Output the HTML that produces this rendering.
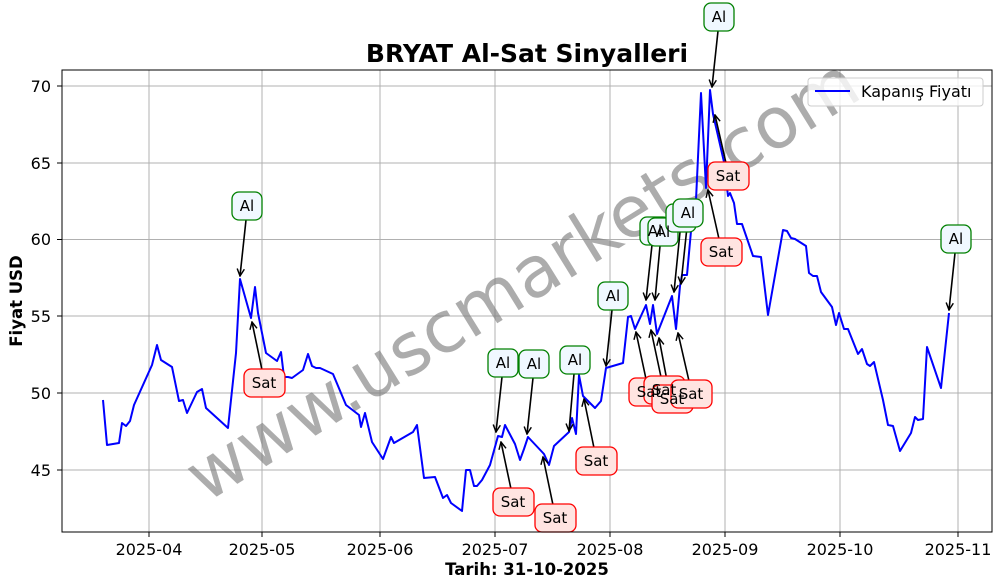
<!DOCTYPE html>
<html><head><meta charset="utf-8"><style>
body{margin:0;background:#fff}
svg{display:block;font-family:"DejaVu Sans","Liberation Sans",sans-serif}
</style></head><body>
<svg width="1001" height="587" viewBox="0 0 1001 587" xmlns="http://www.w3.org/2000/svg">
<defs>
<marker id="ah" viewBox="0 0 10 10" refX="9" refY="5" markerWidth="9" markerHeight="9" orient="auto" markerUnits="userSpaceOnUse">
<path d="M1,1 L9,5 L1,9" fill="none" stroke="#000" stroke-width="1.6"/>
</marker>
</defs>
<rect width="1001" height="587" fill="#fff"/>
<g stroke="#b0b0b0" stroke-width="1">
<line x1="149" y1="70" x2="149" y2="532"/><line x1="262" y1="70" x2="262" y2="532"/>
<line x1="380" y1="70" x2="380" y2="532"/><line x1="495" y1="70" x2="495" y2="532"/>
<line x1="610" y1="70" x2="610" y2="532"/><line x1="725" y1="70" x2="725" y2="532"/>
<line x1="840" y1="70" x2="840" y2="532"/><line x1="958" y1="70" x2="958" y2="532"/>
<line x1="62" y1="86" x2="992" y2="86"/><line x1="62" y1="163" x2="992" y2="163"/>
<line x1="62" y1="239.5" x2="992" y2="239.5"/><line x1="62" y1="316" x2="992" y2="316"/>
<line x1="62" y1="393" x2="992" y2="393"/><line x1="62" y1="470" x2="992" y2="470"/>
</g>
<text x="535" y="300" transform="rotate(-31.7 535 300)" text-anchor="middle" font-size="71" fill="#808080" fill-opacity="0.65">www.uscmarkets.com</text>
<polyline fill="none" stroke="#0000ff" stroke-width="2" stroke-linejoin="round" points="103,400 107,445 119,443 122,423 126,426 130,421 134,405 152,365 157,345 161,360 172,367 179,401 183,400 187,413 197,392 202,389 206,408 228,428 236,353 240,279 251,318 255,287 258,313 266,353 277,361 281,352 284,377 288,377 292,378 303,370 308,354 312,366 316,368 320,368 333,374 346,405 359,415 361,427 365,413 372,442 383,459 391,437 394,443 413,432 417,425 424,478 435,477 443,498 447,495 451,503 462,511 466,470 470,470 474,486 477,486 482,480 490,465 498,436 502,437 505,425 515,444 520,460 524,449 528,437 544,454 549,465 554,446 569,432 572,418 576,434 579,375 583,396 595,408 601,401 606,368 623,363 628,317 631,316 635,329 646,305 650,324 653,305 657,334 672,296 676,329 680,286 682,275 687,275 692,220 696,200 701,93 706,188 710,90 713,114 724,162 728,196 730,193 734,203 737,224 742,224 753,256 761,257 768,315 783,230 787,231 791,238 795,239 806,246 809,273 813,276 817,276 821,292 832,307 836,325 839,313 844,329 848,329 858,354 862,349 867,364 870,366 874,362 883,400 888,425 893,426 900,451 911,433 915,417 918,420 923,419 927,347 941,388 949,313"/>
<g stroke="#000" stroke-width="1.6" marker-end="url(#ah)">
<line x1="246" y1="220" x2="240" y2="276"/><line x1="502" y1="377" x2="496" y2="432"/>
<line x1="533" y1="378" x2="527" y2="434"/><line x1="574" y1="374" x2="569" y2="431"/>
<line x1="612" y1="310" x2="606" y2="366"/><line x1="652" y1="245" x2="646" y2="300"/>
<line x1="660" y1="246" x2="655" y2="300"/><line x1="680" y1="232" x2="674" y2="292"/>
<line x1="687" y1="227" x2="681" y2="284"/><line x1="718" y1="31" x2="712" y2="87"/>
<line x1="955" y1="253" x2="949" y2="310"/>
<line x1="262" y1="370" x2="252" y2="322"/><line x1="511" y1="489" x2="501" y2="442"/>
<line x1="553" y1="505" x2="543" y2="457"/><line x1="594" y1="448" x2="584" y2="399"/>
<line x1="646" y1="379" x2="636" y2="332"/><line x1="661" y1="377" x2="651" y2="330"/>
<line x1="668" y1="386" x2="659" y2="338"/><line x1="689" y1="381" x2="678" y2="333"/>
<line x1="726" y1="163" x2="715" y2="115"/><line x1="719" y1="239" x2="708" y2="190"/>
</g>
<g font-size="15" text-anchor="middle">
<g fill="#f0f8ff" stroke="#008000" stroke-width="1.3">
<rect x="232" y="192" width="30" height="28" rx="7"/><rect x="488" y="349" width="30" height="28" rx="7"/>
<rect x="519" y="350" width="30" height="28" rx="7"/><rect x="560" y="346" width="30" height="28" rx="7"/>
<rect x="598" y="282" width="30" height="28" rx="7"/><rect x="640" y="217" width="30" height="28" rx="7"/>
<rect x="648" y="218" width="30" height="28" rx="7"/><rect x="666" y="204" width="30" height="28" rx="7"/>
<rect x="673" y="199" width="30" height="28" rx="7"/><rect x="704" y="3" width="30" height="28" rx="7"/>
<rect x="941" y="225" width="30" height="28" rx="7"/>
</g>
<g fill="#000">
<text x="247" y="211">Al</text><text x="503" y="368">Al</text><text x="534" y="369">Al</text>
<text x="575" y="365">Al</text><text x="613" y="301">Al</text><text x="655" y="236">Al</text>
<text x="663" y="237">Al</text><text x="688" y="218">Al</text><text x="719" y="22">Al</text>
<text x="956" y="244">Al</text>
</g>
<g fill="#ffe4e1" stroke="#ff0000" stroke-width="1.3">
<rect x="244" y="369" width="41" height="28" rx="7"/><rect x="493" y="488" width="41" height="28" rx="7"/>
<rect x="535" y="504" width="41" height="28" rx="7"/><rect x="576" y="447" width="41" height="28" rx="7"/>
<rect x="629" y="378" width="41" height="28" rx="7"/><rect x="644" y="376" width="41" height="28" rx="7"/>
<rect x="652" y="385" width="41" height="28" rx="7"/><rect x="671" y="380" width="41" height="28" rx="7"/>
<rect x="708" y="162" width="41" height="28" rx="7"/><rect x="701" y="238" width="41" height="28" rx="7"/>
</g>
<g fill="#000">
<text x="264" y="388">Sat</text><text x="513" y="507">Sat</text><text x="555" y="523">Sat</text>
<text x="596" y="466">Sat</text><text x="649" y="397">Sat</text><text x="664" y="395">Sat</text>
<text x="672" y="404">Sat</text><text x="691" y="399">Sat</text><text x="728" y="181">Sat</text>
<text x="721" y="257">Sat</text>
</g>
</g>
<rect x="62" y="70" width="930" height="462" fill="none" stroke="#000" stroke-width="1"/>
<g stroke="#000"><line x1="149" y1="532" x2="149" y2="537"/><line x1="262" y1="532" x2="262" y2="537"/><line x1="380" y1="532" x2="380" y2="537"/><line x1="495" y1="532" x2="495" y2="537"/><line x1="610" y1="532" x2="610" y2="537"/><line x1="725" y1="532" x2="725" y2="537"/><line x1="840" y1="532" x2="840" y2="537"/><line x1="958" y1="532" x2="958" y2="537"/>
<line x1="57" y1="86" x2="62" y2="86"/><line x1="57" y1="163" x2="62" y2="163"/><line x1="57" y1="239.5" x2="62" y2="239.5"/><line x1="57" y1="316" x2="62" y2="316"/><line x1="57" y1="393" x2="62" y2="393"/><line x1="57" y1="470" x2="62" y2="470"/></g>
<g font-size="16" text-anchor="middle" fill="#000">
<text x="149" y="555">2025-04</text><text x="262" y="555">2025-05</text><text x="380" y="555">2025-06</text><text x="495" y="555">2025-07</text><text x="610" y="555">2025-08</text><text x="725" y="555">2025-09</text><text x="840" y="555">2025-10</text><text x="958" y="555">2025-11</text>
</g>
<g font-size="16" text-anchor="end" fill="#000">
<text x="51" y="92">70</text><text x="51" y="169">65</text><text x="51" y="245">60</text><text x="51" y="322">55</text><text x="51" y="399">50</text><text x="51" y="476">45</text>
</g>
<text x="527" y="575" font-size="16.5" font-weight="bold" text-anchor="middle">Tarih: 31-10-2025</text>
<text x="22" y="301" font-size="16.5" font-weight="bold" text-anchor="middle" transform="rotate(-90 22 301)">Fiyat USD</text>
<text x="527" y="62" font-size="25" font-weight="bold" text-anchor="middle">BRYAT Al-Sat Sinyalleri</text>
<rect x="808" y="78" width="175" height="28" rx="3" fill="#fff" fill-opacity="0.8" stroke="#ccc"/>
<line x1="815" y1="91" x2="850" y2="91" stroke="#0000ff" stroke-width="2"/>
<text x="861" y="97" font-size="16">Kapanış Fiyatı</text>
</svg>
</body></html>
